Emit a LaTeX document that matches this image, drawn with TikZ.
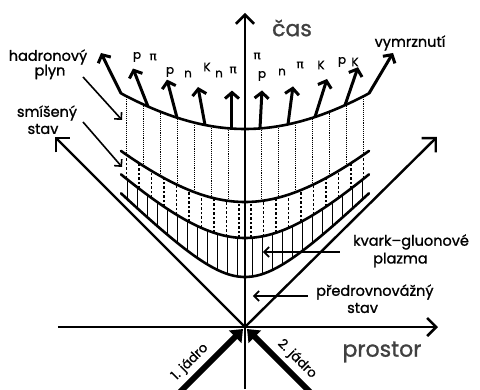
\documentclass[tikz,border=0pt]{standalone}
\usepackage{fontspec}
\setmainfont{Poppins}[FakeBold=1.2]
\newfontfamily\greekfont{DejaVu Sans}[FakeBold=0.6]
\usetikzlibrary{arrows.meta,calc}

\tikzset{
  axis/.style={line width=2.6pt,-{Straight Barb[length=9pt,width=18pt]}},
  cone/.style={line width=2.4pt,-{Straight Barb[length=10pt,width=20pt]}},
  nucleus/.style={line width=6pt,-{Triangle[length=11pt,width=17pt]}},
  phase/.style={line width=2.6pt,line cap=round},
  particle/.style={line width=3pt,-{Straight Barb[length=6pt,width=14pt]}},
  pointer/.style={line width=1.6pt,-{Straight Barb[length=5pt,width=10pt]}},
  lbl/.style={font=\fontsize{14.5}{15}\selectfont,inner sep=0pt},
  big/.style={font=\fontsize{22}{24}\selectfont,text=black!75,inner sep=0pt},
  ptl/.style={font=\fontsize{12}{13}\selectfont,inner sep=0pt},
  jadro/.style={font=\fontsize{13}{14}\selectfont,inner sep=0pt},
}
\newcommand{\pii}{{\greekfont π}}

\begin{document}
\begin{tikzpicture}[x=10pt,y=10pt]
\useasboundingbox (-24.5,-6.2) rectangle (23.5,32.7);
\coordinate (O) at (0,0);
% axes and light cone
\coordinate (tb) at (0,-6.2); \coordinate (tt) at (0,31.4);
\coordinate (xl) at (-18.7,0); \coordinate (xr) at (19.3,0);
\draw[axis] (tb) -- (tt);
\draw[axis] (xl) -- (xr);
\draw[cone] (O) -- (-19,19);
\draw[cone] (O) -- (19.2,19);
\coordinate (n1) at (-6.6,-6.6); \coordinate (n2) at (6.6,-6.6);
\draw[nucleus] (n1) -- (-0.2,-0.2);
\draw[nucleus] (n2) -- (0.2,-0.2);
% phases
\foreach \s in {-1,1}{
  \foreach \k in {0,...,6}{
    \pgfmathsetmacro\xx{\s*(1.65+1.7*\k)}
    \draw[line width=0.9pt,densely dotted] (\xx,{sqrt(12.5*12.5+\xx*\xx)}) -- (\xx,{sqrt(19.8*19.8+\xx*\xx)});
  }
  \foreach \k in {0,...,9}{
    \pgfmathsetmacro\xx{\s*(0.6+1.25*\k)}
    \draw[line width=1.6pt,dash pattern=on 2.5pt off 2pt] (\xx,{sqrt(8.9*8.9+\xx*\xx)}) -- (\xx,{sqrt(12.5*12.5+\xx*\xx)});
  }
  \foreach \k in {0,...,11}{
    \pgfmathsetmacro\xx{\s*(0.75+1.0*\k)}
    \draw[line width=1.3pt] (\xx,{sqrt(5*5+\xx*\xx)}) -- (\xx,{sqrt(8.9*8.9+\xx*\xx)});
  }
}
\foreach \tau in {5,8.9,12.5,19.8}
  \draw[phase] plot[domain=-12.4:12.4,samples=60] (\x,{sqrt(\tau*\tau+\x*\x)});
% freeze-out
\coordinate (hL) at (-12.4,{sqrt(19.8*19.8+12.4*12.4)});
\coordinate (hR) at (12.4,{sqrt(19.8*19.8+12.4*12.4)});
\draw[particle] (hL) -- (-14.4,27.4);
\draw[particle] (hR) -- (14.8,27.4);
\foreach \x/\dx [count=\i] in {-9.7/-1.5,-6.8/-1.0,-4.0/-0.7,-1.3/0,1.5/0.2,4.3/0.5,7.0/1.2,10.0/1.3}{
  \coordinate (e\i) at (\x,{sqrt(19.8*19.8+\x*\x)});
  \coordinate (f\i) at ($(e\i)+(\dx,3.8)$);
  \draw[particle] (e\i) -- (f\i);
}
% particles
\node[ptl] (p1) at (-10.8,27.0) {p};
\node[ptl] (p2) at (-9.2,27.0) {\pii};
\node[ptl] (p3) at (-7.5,25.5) {p};
\node[ptl] (p4) at (-5.7,25.3) {n};
\node[ptl] (p5) at (-3.8,26.0) {K};
\node[ptl] (p6) at (-2.6,25.3) {n};
\node[ptl] (p7) at (-1.2,25.7) {\pii};
\node[ptl] (p8) at (1.2,27.1) {\pii};
\node[ptl] (p9) at (1.7,25.1) {p};
\node[ptl] (p10) at (3.7,25.5) {n};
\node[ptl] (p11) at (5.5,26.2) {\pii};
\node[ptl] (p12) at (7.6,26.2) {K};
\node[ptl] (p13) at (9.7,26.5) {p};
\node[ptl] (p14) at (11.0,26.5) {K};
% labels
\node[big] (cas) at (4.7,29.9) {čas};
\node[big] (prostor) at (13.7,-2.5) {prostor};
\node[lbl] (vym) at (16.5,28.4) {vymrznutí};
\node[lbl] (had) at (-19.7,27.0) {hadronový};
\node[lbl] (plyn) at (-19.5,25.5) {plyn};
\node[lbl] (smi) at (-19.8,21.4) {smíšený};
\node[lbl] (stav1) at (-20.2,19.8) {stav};
\node[lbl,anchor=west] (kvark) at (10.8,8.5) {kvark–gluonové};
\node[lbl,anchor=west] (plazma) at (12.8,6.7) {plazma};
\node[lbl,anchor=west] (pred) at (7.1,3.5) {předrovnovážný};
\node[lbl,anchor=west] (stav2) at (10.2,1.9) {stav};
\node[jadro,rotate=45] (j1) at (-5.5,-3.5) {1. jádro};
\node[jadro,rotate=-45] (j2) at (5.2,-3.2) {2. jádro};
% pointers
\coordinate (a1) at (-16.2,25.0); \coordinate (b1) at (-12.3,20.7);
\coordinate (a2) at (-16.2,20.5); \coordinate (b2) at (-12.3,16.0);
\coordinate (a3) at (9.5,7.5); \coordinate (b3) at (1.8,7.5);
\coordinate (a4) at (6.3,3.1); \coordinate (b4) at (0.8,3.1);
\draw[pointer] (a1) -- (b1);
\draw[pointer] (a2) -- (b2);
\draw[pointer] (a3) -- (b3);
\draw[pointer] (a4) -- (b4);
\end{tikzpicture}
\end{document}
